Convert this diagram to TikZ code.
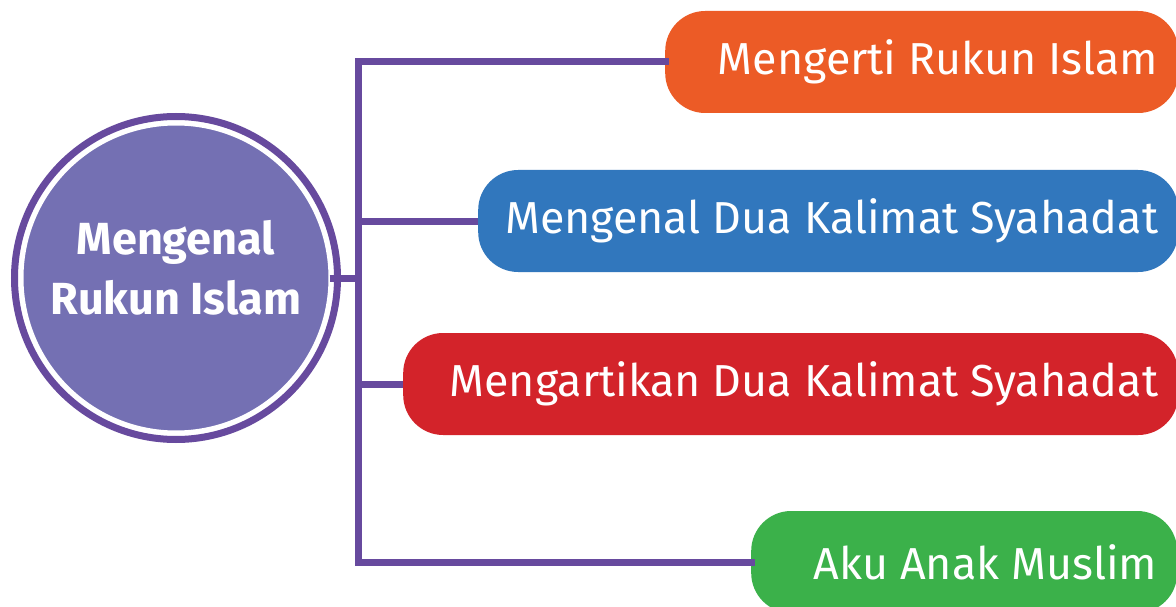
\documentclass[tikz,border=0pt]{standalone}
\usepackage{fontspec}
\setmainfont{Fira Sans}
\definecolor{lineP}{HTML}{674A9E}
\definecolor{circF}{HTML}{7470B3}
\definecolor{orangeB}{HTML}{EC5B26}
\definecolor{blueB}{HTML}{3177BD}
\definecolor{redB}{HTML}{D3232A}
\definecolor{greenB}{HTML}{3BB14A}
\newcommand{\boxtext}[2]{\makebox[#1][r]{#2}}
\tikzset{
  conn/.style={draw=lineP, line width=7pt},
  topicbox/.style={rectangle, rounded corners=40pt, minimum height=102pt, anchor=west,
    inner xsep=20pt, inner ysep=0pt, text=white,
    font=\fontsize{44.8}{50}\selectfont},
}
\begin{document}
\begin{tikzpicture}[x=1pt,y=-1pt]
\clip (0,0) rectangle (1176,607);
\fill[white] (0,0) rectangle (1176,607);
% central circle
\node[circle, fill=circF, draw=white, line width=5pt, minimum size=310pt, inner sep=0pt] (circ) at (176,278) {};
\draw[lineP, line width=7pt] (circ.center) circle (161.5pt);
\node[text=white, align=center, inner sep=0pt, font=\bfseries\fontsize{45}{60}\selectfont]
      (circtext) at ([yshift=10pt]circ.center) {Mengenal\\Rukun Islam};
% boxes
\node[topicbox, fill=orangeB] (b1) at (665,62) {\boxtext{473pt}{Mengerti Rukun Islam}};
\node[topicbox, fill=blueB] (b2) at (478,221) {\boxtext{660pt}{Mengenal Dua Kalimat Syahadat}};
\node[topicbox, fill=redB] (b3) at (403,384) {\boxtext{735pt}{Mengartikan Dua Kalimat Syahadat}};
\node[topicbox, fill=greenB] (b4) at (751,562) {\boxtext{386pt}{Aku Anak Muslim}};
% connectors
\coordinate (jt) at (358,62);
\coordinate (jb) at (358,562);
\draw[conn, line cap=rect] (b1.west) -- (jt) -- (jb) -- (b4.west);
\draw[conn] (jt |- b2.west) -- (b2.west);
\draw[conn] (jt |- b3.west) -- (b3.west);
\draw[conn] ([xshift=-4pt]circ.east) -- (jt |- circ.east);
\end{tikzpicture}
\end{document}
